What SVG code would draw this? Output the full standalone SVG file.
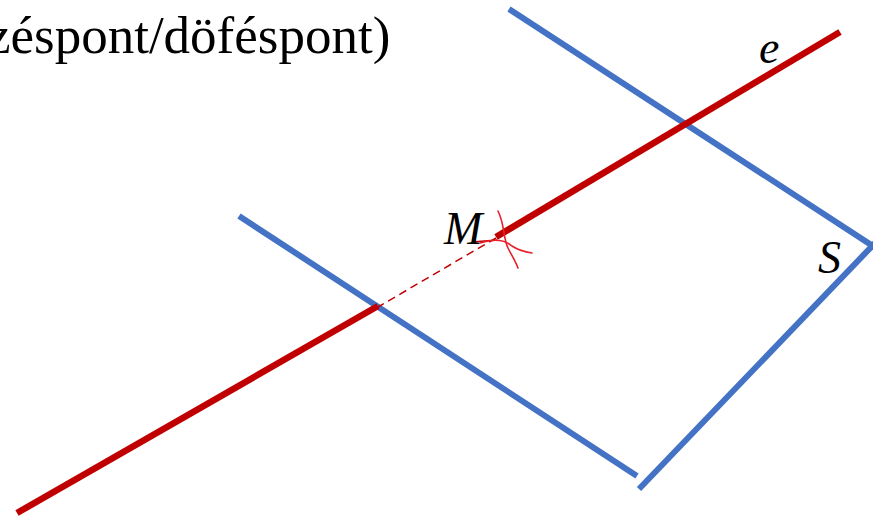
<svg xmlns="http://www.w3.org/2000/svg" width="873" height="518" viewBox="0 0 873 518">
<style>
.plane{stroke:#4472C4;stroke-width:6;fill:none;stroke-linecap:butt}
.line{stroke:#C00000;stroke-width:6.5;fill:none;stroke-linecap:butt}
.thin{stroke:#C00000;stroke-width:1.5;fill:none}
.mark{stroke:#E8202A;stroke-width:1.6;fill:none;stroke-linecap:round}
.lbl{font-family:"Liberation Serif","Times New Roman",serif;font-style:italic;font-size:46px;fill:#000}
.title{font-family:"Liberation Serif","Times New Roman",serif;font-size:53px;fill:#000}
</style>
<rect width="873" height="518" fill="#fff"/>
<text class="title" x="-13" y="53">zéspont/döféspont)</text>
<g id="connectors">
<g id="plane-S">
<line class="plane" x1="509" y1="9" x2="876" y2="248"/>
<line class="plane" x1="876" y1="242" x2="639" y2="489"/>
<line class="plane" x1="239" y1="216" x2="637" y2="476"/>
</g>
<g id="line-e">
<line class="line" x1="840" y1="32" x2="496" y2="237"/>
<line class="thin" x1="496" y1="238" x2="378" y2="307" stroke-dasharray="8,5"/>
<line class="line" x1="378" y1="306" x2="17" y2="513"/>
</g>
</g>
<g id="M">
<line class="thin" x1="472" y1="242" x2="497" y2="240"/>
<path class="mark" d="M498,211 C505,225 503,238 508,248 C512,256 516,262 518,268"/>
<path class="mark" d="M480,243 C495,238 505,240 512,246 C518,250 525,252 532,253"/>
<text class="lbl" x="444" y="244">M</text>
</g>
<g id="e"><text class="lbl" x="759" y="63">e</text></g>
<g id="S"><text class="lbl" x="818" y="273">S</text></g>
</svg>
